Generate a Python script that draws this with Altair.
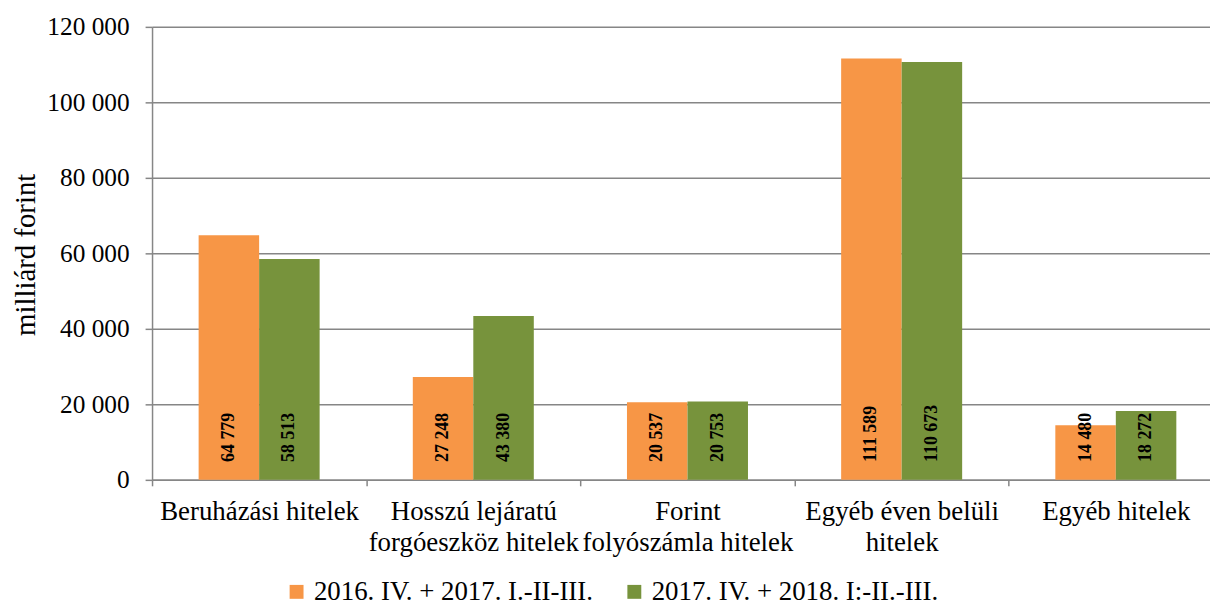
import altair as alt
import pandas as pd

categories = [
    "Beruházási hitelek",
    "Hosszú lejáratú forgóeszköz hitelek",
    "Forint folyószámla hitelek",
    "Egyéb éven belüli hitelek",
    "Egyéb hitelek",
]
category_lines = [
    ["Beruházási hitelek"],
    ["Hosszú lejáratú", "forgóeszköz hitelek"],
    ["Forint", "folyószámla hitelek"],
    ["Egyéb éven belüli", "hitelek"],
    ["Egyéb hitelek"],
]
series = ["2016. IV. + 2017. I.-II-III.", "2017. IV. + 2018. I:-II.-III."]
values_2017 = [64779, 27248, 20537, 111589, 14480]
values_2018 = [58513, 43380, 20753, 110673, 18272]
colors = ["#F79646", "#77933C"]
y_ticks = [0, 20000, 40000, 60000, 80000, 100000, 120000]

rows = []
for s, vals in zip(series, [values_2017, values_2018]):
    for c, v in zip(categories, vals):
        rows.append({"cat": c, "series": s, "value": v,
                     "label": f"{v:,}".replace(",", " ")})
df = pd.DataFrame(rows)

# multi-line x labels
expr = "datum.label"
for c, lines in zip(categories, category_lines):
    arr = "[" + ",".join("'" + l + "'" for l in lines) + "]"
    expr = f"datum.label == '{c}' ? {arr} : ({expr})"

FONT = "Liberation Serif"

x_enc = alt.X(
    "cat:N",
    sort=categories,
    scale=alt.Scale(domain=categories, range=[0, 1078], paddingInner=0, paddingOuter=0),
    axis=alt.Axis(
        title=None, labelAngle=0, labelExpr=expr, labelFontSize=27,
        labelLineHeight=31, labelPadding=13, tickBand="extent", tickSize=6,
        domainColor="#868686", tickColor="#868686", domainWidth=1.5, tickWidth=1.5,
        labelColor="#000000", labelFont=FONT, labelLimit=1000, grid=False,
    ),
)
xoff = alt.XOffset("series:N", sort=series,
                   scale=alt.Scale(domain=series, paddingInner=0, paddingOuter=0.77))

bars = alt.Chart(df).mark_bar().encode(
    x=x_enc,
    xOffset=xoff,
    y=alt.Y(
        "value:Q",
        scale=alt.Scale(domain=[0, 120000], nice=False),
        axis=alt.Axis(
            title="milliárd forint", values=y_ticks, titleFontSize=29,
            titleFont=FONT, titleFontWeight="normal", titleColor="#000000",
            titleX=-127, titleY=229, titleAngle=270, titleBaseline="middle",
            titleAlign="center",
            labelFontSize=25.5, labelFont=FONT, labelColor="#000000",
            labelPadding=16, tickSize=7, tickColor="#868686", tickWidth=1.5,
            domainColor="#868686", domainWidth=1.5, grid=True,
            gridColor="#868686", gridWidth=1.5,
            labelExpr="replace(format(datum.value, ','), ',', ' ')",
        ),
    ),
    color=alt.Color(
        "series:N", sort=series,
        scale=alt.Scale(domain=series, range=colors),
        legend=alt.Legend(
            title=None, orient="none", legendX=132, legendY=555,
            direction="horizontal", symbolType="square", symbolSize=196,
            symbolStrokeWidth=0, labelFontSize=27, labelFont=FONT,
            labelColor="#000000", columnPadding=28, labelOffset=4, labelLimit=1000,
        ),
    ),
)

texts = alt.Chart(df).mark_text(
    angle=270, align="left", baseline="middle", dx=18,
    font=FONT, fontSize=18, fontWeight="bold", color="#000000",
).encode(
    x=alt.X("cat:N", sort=categories),
    xOffset=xoff,
    y=alt.datum(0),
    text="label:N",
)

chart = alt.layer(bars, texts).properties(
    width=1065, height=456,
    autosize=alt.AutoSizeParams(type="none"),
    padding={"left": 145, "top": 17, "right": 0, "bottom": 125},
).configure(font=FONT).configure_view(stroke=None)

chart.save("out.html", embed_options={"renderer": "svg", "actions": False})
